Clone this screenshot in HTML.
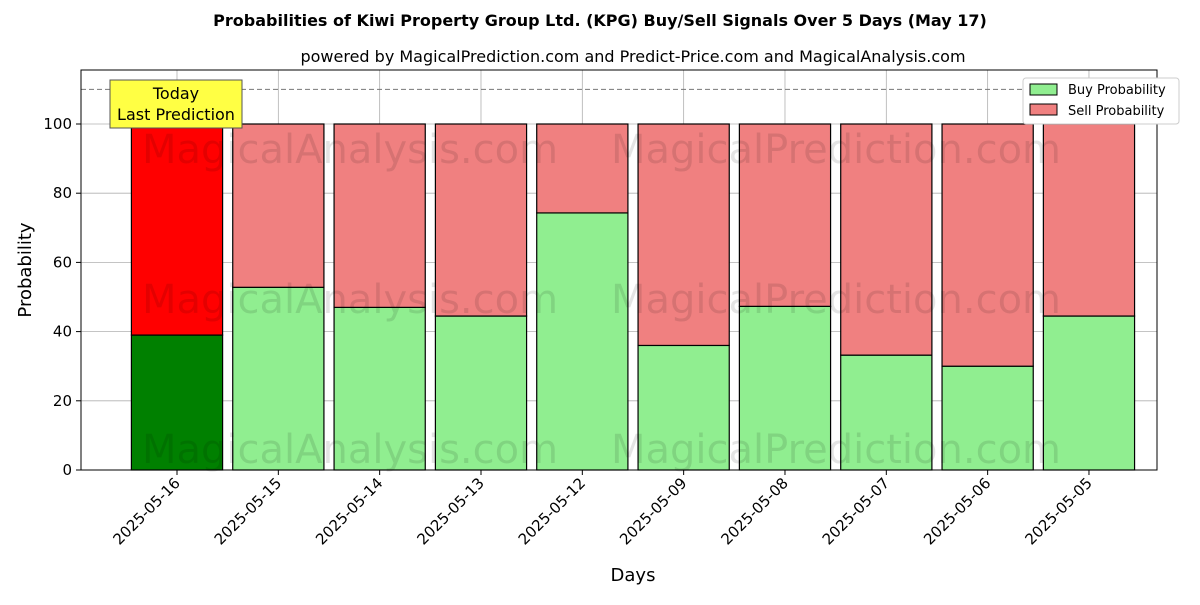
<!DOCTYPE html>
<html><head><meta charset="utf-8"><style>
body{margin:0;background:#fff;font-family:"Liberation Sans","DejaVu Sans",sans-serif;}
svg text{font-family:"DejaVu Sans","Liberation Sans",sans-serif;}
</style></head><body>
<svg id="chart" width="1200" height="600" xmlns="http://www.w3.org/2000/svg">
<text x="600" y="26" text-anchor="middle" font-size="16" font-weight="bold">Probabilities of Kiwi Property Group Ltd. (KPG) Buy/Sell Signals Over 5 Days (May 17)</text>
<text x="633" y="62" text-anchor="middle" font-size="16">powered by MagicalPrediction.com and Predict-Price.com and MagicalAnalysis.com</text>
<g id="grid"></g>
<g id="bars"></g>
<g id="wm" fill="#000" opacity="0.1" font-size="40" text-anchor="middle">
<text x="350" y="163">MagicalAnalysis.com</text>
<text x="836" y="163">MagicalPrediction.com</text>
<text x="350" y="313">MagicalAnalysis.com</text>
<text x="836" y="313">MagicalPrediction.com</text>
<text x="350" y="463">MagicalAnalysis.com</text>
<text x="836" y="463">MagicalPrediction.com</text>
</g>
<line x1="81" x2="1157" y1="89.4" y2="89.4" stroke="#777" stroke-dasharray="5,3"/>
<rect x="81" y="70" width="1076" height="400" fill="none" stroke="#000"/>
<g id="ticks"></g>
<g>
<rect x="110" y="80" width="132" height="48" fill="#ffff44" stroke="#555"/>
<text x="176" y="99" text-anchor="middle" font-size="16">Today</text>
<text x="176" y="120" text-anchor="middle" font-size="16">Last Prediction</text>
</g>
<text x="633" y="581" text-anchor="middle" font-size="18">Days</text>
<text transform="translate(31,270) rotate(-90)" text-anchor="middle" font-size="18">Probability</text>
<g>
<rect x="1023" y="78" width="156" height="46" fill="#fff" stroke="#ccc" rx="3"/>
<rect x="1030" y="84" width="27" height="11" fill="#90ee90" stroke="#000"/>
<text x="1068" y="94" font-size="13">Buy Probability</text>
<rect x="1030" y="104" width="27" height="11" fill="#f08080" stroke="#000"/>
<text x="1068" y="115" font-size="13">Sell Probability</text>
</g>
</svg>
<script>
const categories=["2025-05-16","2025-05-15","2025-05-14","2025-05-13","2025-05-12","2025-05-09","2025-05-08","2025-05-07","2025-05-06","2025-05-05"];
const buyValues=[39,52.8,47,44.5,74.3,36,47.3,33.2,30,44.5];
const sellValues=buyValues.map(v=>100-v);
const yTicks=[0,20,40,60,80,100];
const NS="http://www.w3.org/2000/svg";
const xs=i=>177+i*101.33;
const ys=v=>470-v*3.46;
const bw=0.9*101.33;
const grid=document.getElementById('grid'),bars=document.getElementById('bars'),ticks=document.getElementById('ticks');
function mk(tag,attrs,parent){const e=document.createElementNS(NS,tag);for(const k in attrs)e.setAttribute(k,attrs[k]);parent.appendChild(e);return e;}
yTicks.forEach(t=>{
 const g=mk('line',{x1:81,x2:1157,y1:ys(t),y2:ys(t),stroke:'#b0b0b0','stroke-width':0.8},grid);
 
 
 const tk=mk('line',{x1:76,x2:81,y1:ys(t),y2:ys(t),stroke:'#000'},ticks);
 
 
 const tx=mk('text',{x:72,y:ys(t)+5,'text-anchor':'end','font-size':15},ticks);
 tx.textContent=t;
 
 
});
categories.forEach((c,i)=>{
 const x=xs(i);
 const gl=mk('line',{x1:x,x2:x,y1:70,y2:470,stroke:'#b0b0b0','stroke-width':0.8},grid);
 
 
 const b=mk('rect',{x:x-bw/2,y:ys(buyValues[i]),width:bw,height:ys(0)-ys(buyValues[i]),fill:i==0?'#008000':'#90ee90',stroke:'#000','stroke-width':1.2},bars);
 
 
 const s=mk('rect',{x:x-bw/2,y:ys(buyValues[i]+sellValues[i]),width:bw,height:ys(buyValues[i])-ys(buyValues[i]+sellValues[i]),fill:i==0?'#ff0000':'#f08080',stroke:'#000','stroke-width':1.2},bars);
 
 
 const tk=mk('line',{x1:x,x2:x,y1:470,y2:475,stroke:'#000'},ticks);
 
 
 const tx=mk('text',{x:x+4,y:484,'text-anchor':'end','font-size':15,transform:`rotate(-45 ${x+4} 484)`},ticks);
 tx.textContent=c;
 
 
});
</script>
</body></html>
